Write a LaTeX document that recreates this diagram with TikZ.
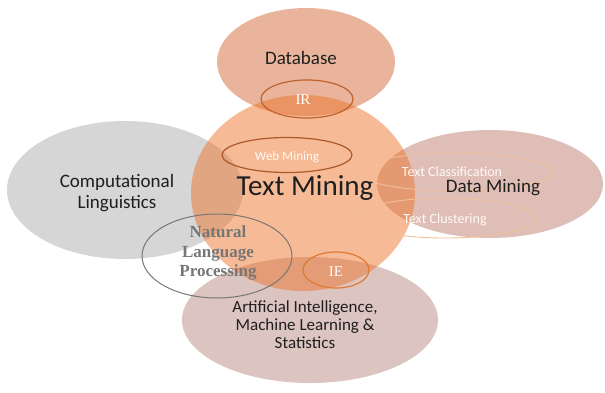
\documentclass[tikz,border=0pt]{standalone}
\usepackage{fontspec}
\setmainfont{Carlito}
\newfontfamily\timesfont{Liberation Serif}
\usetikzlibrary{shapes.geometric}

\definecolor{dbfill}{HTML}{E9B49B}
\definecolor{clfill}{HTML}{D6D6D6}
\definecolor{dmfill}{HTML}{DEBEB6}
\definecolor{aifill}{HTML}{DCC4C0}
\definecolor{tmfill}{HTML}{ED752D}
\definecolor{irline}{HTML}{BF622C}
\definecolor{ieline}{HTML}{DF7A32}
\definecolor{tcline}{HTML}{F0C09A}
\definecolor{nlpgray}{HTML}{767676}

\begin{document}
\begin{tikzpicture}[x=1pt, y=-1pt,
    blob/.style={ellipse, inner sep=0pt},
    ring/.style={ellipse, inner sep=0pt, draw, line width=1.2pt},
    lbl/.style={align=center, text=black!88, font=\fontsize{19}{20.5}\selectfont},
    inlbl/.style={text=white!96!orange, font=\fontsize{13}{14}\selectfont}]
    \useasboundingbox (0,0) rectangle (605,392);

    % the fields around text mining
    \node[blob, fill=clfill, minimum width=236pt, minimum height=138pt] (cl) at (125,190) {};
    \node[blob, fill=dbfill, minimum width=178pt, minimum height=108pt] (db) at (306,62) {};
    \node[blob, fill=dmfill, minimum width=226pt, minimum height=108pt] (dm) at (490,184) {};
    \node[blob, fill=aifill, minimum width=256pt, minimum height=126pt] (ai) at (310,320) {};
    \node[blob, fill=tmfill, fill opacity=0.5, minimum width=224pt, minimum height=196pt] (tm) at (303,193) {};

    % sub areas
    \node[ring, draw=irline, minimum width=92pt, minimum height=38pt] (ir) at (307,99) {};
    \node[ring, draw=ieline, minimum width=66pt, minimum height=36pt] (ie) at (336,270) {};
    \node[ring, draw=irline!90!black, minimum width=130pt, minimum height=35pt] (web) at (287,155) {};
    \node[ring, draw=tcline, line width=0.9pt, minimum width=194pt, minimum height=38pt] (tcls) at (455,172) {};
    \node[ring, draw=tcline, line width=0.9pt, minimum width=180pt, minimum height=40pt] (tclu) at (445,218) {};
    \node[ring, draw=nlpgray, line width=1pt, minimum width=150pt, minimum height=84pt] (nlp) at (217,256) {};

    % labels
    \node[lbl] (dbtxt) at (301,58) {Database};
    \node[lbl] (cltxt) at (117,193) {Computational\\Linguistics};
    \node[lbl] (dmtxt) at (493,188) {Data Mining};
    \node[lbl, font=\fontsize{17}{18}\selectfont] (aitxt) at (305,325) {Artificial Intelligence,\\Machine Learning \&\\Statistics};
    \node[lbl, font=\fontsize{29}{30}\selectfont] (tmtxt) at (305,188) {Text Mining};
    \node[align=center, text=nlpgray, font=\timesfont\bfseries\fontsize{17}{19.5}\selectfont] (nlptxt) at (218,253) {Natural\\Language\\Processing};
    \node[text=white, font=\timesfont\fontsize{15}{16}\selectfont] (irtxt) at (303,100) {IR};
    \node[text=white, font=\timesfont\fontsize{15}{16}\selectfont] (ietxt) at (336,272) {IE};
    \node[inlbl] (webtxt) at (287,157) {Web Mining};
    \node[inlbl, font=\fontsize{14}{15}\selectfont] (tclstxt) at (452,172) {Text Classification};
    \node[inlbl, font=\fontsize{14}{15}\selectfont] (tclutxt) at (445,220) {Text Clustering};
\end{tikzpicture}
\end{document}
